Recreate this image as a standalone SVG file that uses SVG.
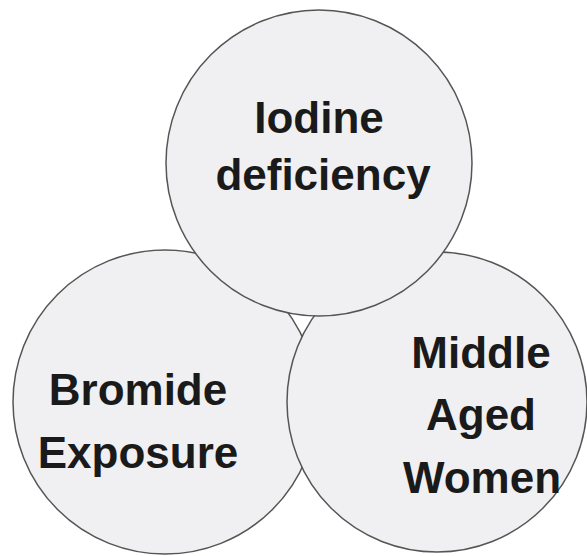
<svg xmlns="http://www.w3.org/2000/svg" width="587" height="556" viewBox="0 0 587 556">
<style>
.c{fill:#f0f0f2;stroke:#555;stroke-width:1.5}
.t{font-family:"Liberation Sans",Arial,sans-serif;font-weight:bold;font-size:44px;fill:#1a1a1a;text-anchor:middle}
</style>
<rect width="587" height="556" fill="#fff"/>
<g id="bromide">
<circle class="c" cx="165" cy="402" r="152"/>
<text class="t" x="138" y="405">Bromide</text>
<text class="t" x="138" y="468">Exposure</text>
</g>
<g id="women">
<circle class="c" cx="437" cy="402" r="150"/>
<text class="t" x="481" y="368">Middle</text>
<text class="t" x="481" y="430">Aged</text>
<text class="t" x="482" y="493">Women</text>
</g>
<g id="iodine">
<circle class="c" cx="319" cy="163" r="153"/>
<text class="t" x="319" y="133">Iodine</text>
<text class="t" x="323" y="190">deficiency</text>
</g>
<g id="connectors"></g>
</svg>
